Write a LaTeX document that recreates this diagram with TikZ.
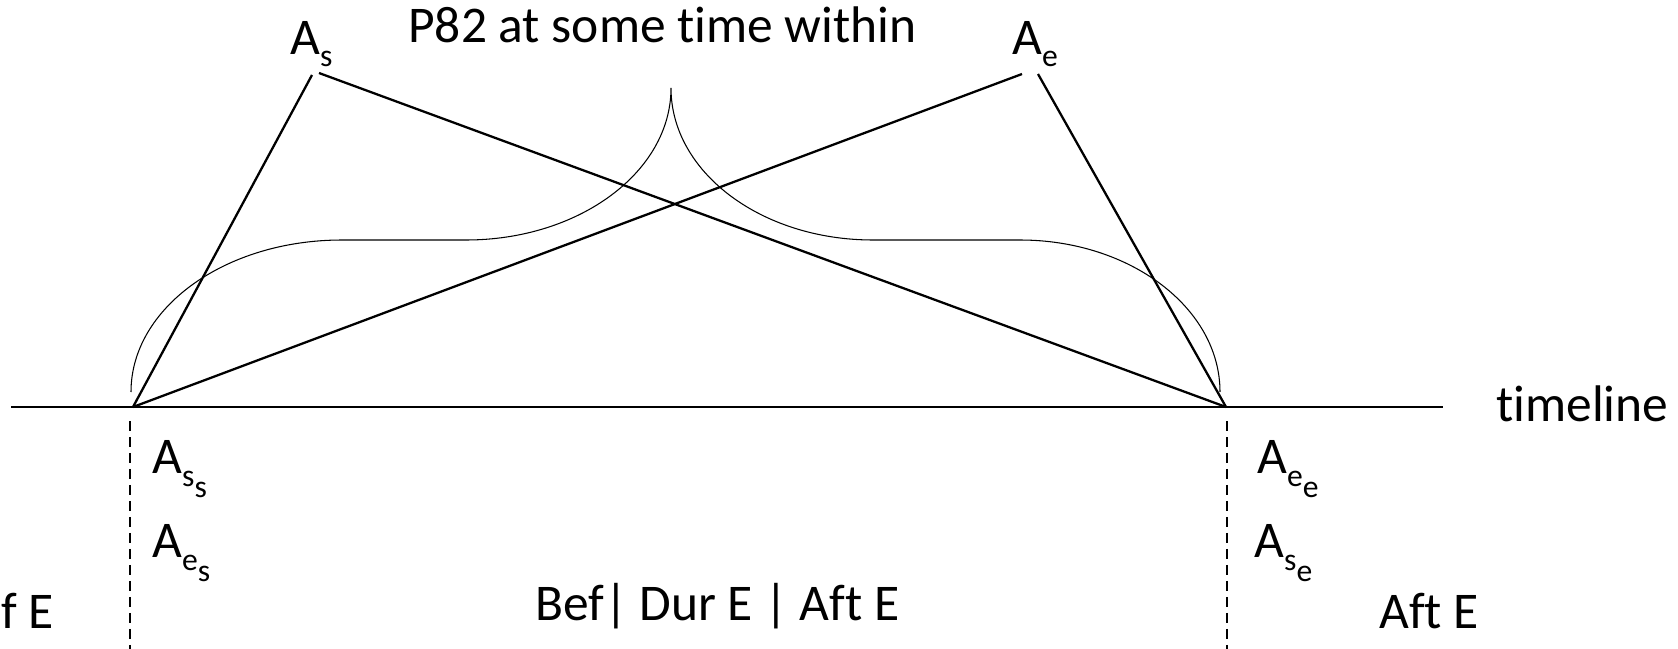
\documentclass[tikz,border=0pt]{standalone}
\usepackage{fontspec}
\setmainfont{Carlito}[Ligatures=NoCommon]
\usetikzlibrary{positioning}
\newcommand{\subsz}{\fontsize{18}{18}\selectfont}
\newcommand{\lowa}[1]{\raisebox{-0.26cm}{\subsz #1}}
\newcommand{\lowb}[1]{\raisebox{-0.5cm}{\subsz #1}}

\begin{document}
\begin{tikzpicture}[x=0.02cm,y=-0.02cm,
    lbl/.style={inner sep=0pt,anchor=base west,font=\fontsize{29.3}{35}\selectfont},
    tl/.style={line width=1.3pt},
    brace/.style={line width=0.6pt},
    cutline/.style={line width=1.3pt,dash pattern=on 0.2cm off 0.12cm}]
    \useasboundingbox (0,0) rectangle (1678,649);
    % labels
    \node[lbl] (title) at (408,42) {P82 at some time within};
    \node[lbl] (As) at (290,54) {A\lowa{s}};
    \node[lbl] (Ae) at (1012,54) {A\lowa{e}};
    \node[lbl] (tlab) at (1496,421) {timeline};
    \node[lbl] (Ass) at (152,473) {A\lowa{s}\lowb{s}};
    \node[lbl] (Aes) at (152,557) {A\lowa{e}\lowb{s}};
    \node[lbl] (Aee) at (1257,473) {A\lowa{e}\lowb{e}};
    \node[lbl] (Ase) at (1254,557) {A\lowa{s}\lowb{e}};
    \node[lbl] (bef) at (1,628) {f E};
    \node[lbl] (dur) at (535,620) {Bef| Dur E | Aft E};
    \node[lbl] (aft) at (1379,628) {Aft E};
    % timeline and interval ends
    \coordinate (t0) at (11,407);
    \coordinate (t1) at (1443,407);
    \coordinate (L) at (133,407);
    \coordinate (R) at (1226,407);
    \coordinate (As1) at (312,75);
    \coordinate (As2) at (319,73);
    \coordinate (Ae1) at (1022,74);
    \coordinate (Ae2) at (1038,74);
    \coordinate (dL0) at (130,421);
    \coordinate (dL1) at (130,649);
    \coordinate (dR0) at (1227,421);
    \coordinate (dR1) at (1227,649);
    \draw[tl] (t0) -- (t1);
    \draw[tl] (As1) -- (L);
    \draw[tl] (As2) -- (R);
    \draw[tl] (Ae1) -- (L);
    \draw[tl] (Ae2) -- (R);
    \draw[cutline] (dL0) -- (dL1);
    \draw[cutline] (dR0) -- (dR1);
    % brace
    \draw[brace] (131,392) .. controls (131,308) and (225,240) .. (342,240) -- (466,240)
        .. controls (579,240) and (671,172) .. (671,88)
        .. controls (671,172) and (761,240) .. (873,240) -- (1020,240)
        .. controls (1130,240) and (1220,308) .. (1220,392);
\end{tikzpicture}
\end{document}
